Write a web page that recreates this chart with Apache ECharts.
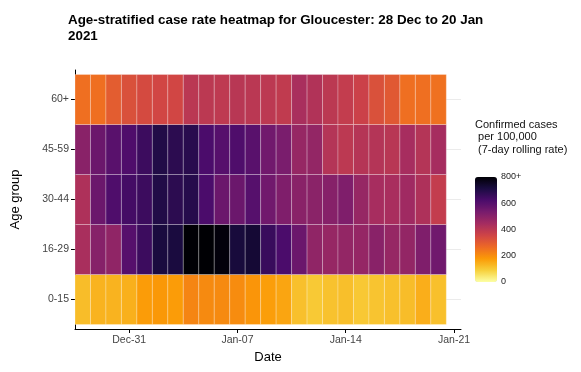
<!DOCTYPE html>
<html><head><meta charset="utf-8">
<script src="https://cdn.jsdelivr.net/npm/echarts@6/dist/echarts.min.js"></script>
<style>html,body{margin:0;padding:0;background:#fff}#c{width:581px;height:372px}</style>
</head><body><div id="c"></div>
<script>
const dates = ['2020-12-28','2020-12-29','2020-12-30','2020-12-31','2021-01-01','2021-01-02','2021-01-03','2021-01-04',
  '2021-01-05','2021-01-06','2021-01-07','2021-01-08','2021-01-09','2021-01-10','2021-01-11','2021-01-12',
  '2021-01-13','2021-01-14','2021-01-15','2021-01-16','2021-01-17','2021-01-18','2021-01-19','2021-01-20'];
const ageGroups = ['0-15','16-29','30-44','45-59','60+'];
const rate_0_15   = [120,137,137,142,175,182,175,216,207,207,203,187,171,160,116,100,112,117,102,108,115,120,145,116];
const rate_16_29  = [435,505,485,600,650,715,715,860,850,790,720,730,655,622,560,485,475,480,477,500,475,480,520,550];
const rate_30_44  = [425,560,615,635,650,700,680,690,622,560,560,600,548,520,500,497,505,520,475,440,437,455,425,382];
const rate_45_59  = [500,560,595,615,650,700,680,685,622,600,615,595,548,530,475,480,412,395,410,412,405,440,412,442];
const rate_60plus = [255,255,295,325,340,350,350,400,398,392,405,400,395,388,435,418,398,382,365,325,305,255,255,252];
const tickDates  = ['2020-12-31','2021-01-07','2021-01-14','2021-01-21'];
const tickLabels = ['Dec-31','Jan-07','Jan-14','Jan-21'];
const legendBreaks = [0,200,400,600,800];
const legendLabels = ['0','200','400','600','800+'];
const rateCap = 800;

const FONT = '"Liberation Sans", Arial, sans-serif';
const DAY = 86400000;
const t0 = Date.parse(dates[0]);
const dayOf = d => Math.round((Date.parse(d) - t0) / DAY);
const rows = [rate_0_15, rate_16_29, rate_30_44, rate_45_59, rate_60plus];
const data = [];
rows.forEach((vals, r) => vals.forEach((v, i) => data.push([dayOf(dates[i]), r + 1, v, Math.min(v, rateCap)])));
const tickVals = tickDates.map(dayOf);
const yVals = ageGroups.map((g, i) => i + 1);

const inferno = ['#FCFFA4','#F7D03C','#FB9A06','#ED6925','#CF4446','#A52C60','#781C6D','#4B0C6B','#1B0C42','#000004'];

const barTop = 177, barH = 105, barLeft = 475, barW = 22;
const graphics = [{
  type: 'text', left: 475, top: 119,
  style: { text: 'Confirmed cases\n per 100,000\n (7-day rolling rate)', font: '11px ' + FONT, fill: '#111', lineHeight: 12.3 }
}];
legendBreaks.forEach((b, i) => {
  const y = barTop + barH - b / rateCap * barH;
  graphics.push({ type: 'text', x: 501, y: y, style: { text: legendLabels[i], font: '9px ' + FONT, fill: '#222', verticalAlign: 'middle' } });
  if (i > 0 && i < legendBreaks.length - 1) {
    graphics.push({ type: 'line', shape: { x1: barLeft, y1: y, x2: barLeft + 4, y2: y }, style: { stroke: 'rgba(255,255,255,0.6)', lineWidth: 1 } });
    graphics.push({ type: 'line', shape: { x1: barLeft + barW - 4, y1: y, x2: barLeft + barW, y2: y }, style: { stroke: 'rgba(255,255,255,0.6)', lineWidth: 1 } });
  }
});

const chart = echarts.init(document.getElementById('c'), null, { renderer: 'canvas' });
chart.setOption({
  animation: false,
  backgroundColor: '#fff',
  textStyle: { fontFamily: FONT },
  title: {
    text: 'Age-stratified case rate heatmap for Gloucester: 28 Dec to 20 Jan\n2021',
    left: 68, top: 13, padding: 0,
    textStyle: { fontFamily: FONT, fontSize: 13.4, fontWeight: 'bold', color: '#000', lineHeight: 15.5 }
  },
  grid: { left: 75, top: 70, width: 386, height: 259, containLabel: false },
  xAxis: {
    type: 'value', min: -0.5, max: 24.45,
    axisLine: { show: true, onZero: false, lineStyle: { color: '#000', width: 1 } },
    axisTick: { show: true, length: 4, customValues: tickVals, lineStyle: { color: '#000' } },
    axisLabel: { customValues: tickVals, formatter: v => tickLabels[tickVals.indexOf(v)], margin: 6, fontSize: 10.5, color: '#444', fontFamily: FONT },
    splitLine: { show: false },
    name: 'Date', nameLocation: 'middle', nameGap: 22,
    nameTextStyle: { fontSize: 13, color: '#000', fontFamily: FONT }
  },
  yAxis: {
    type: 'value', min: 0.41, max: 5.59,
    axisLine: { show: true, onZero: false, lineStyle: { color: '#000', width: 1 } },
    axisTick: { show: true, length: 4, customValues: yVals, lineStyle: { color: '#000' } },
    axisLabel: { customValues: yVals, formatter: v => ageGroups[v - 1], margin: 6, fontSize: 10.5, color: '#444', fontFamily: FONT },
    splitLine: { show: true, lineStyle: { color: '#ebebeb', width: 1 } },
    name: 'Age group', nameLocation: 'middle', nameGap: 53, nameRotate: 90,
    nameTextStyle: { fontSize: 13, color: '#000', fontFamily: FONT }
  },
  visualMap: {
    type: 'continuous', min: 0, max: rateCap, dimension: 3, seriesIndex: 0,
    orient: 'vertical', left: barLeft, top: barTop, itemWidth: barW, itemHeight: barH,
    calculable: false, hoverLink: false, padding: 0, text: null,
    inRange: { color: inferno }
  },
  graphic: graphics,
  series: [{
    type: 'custom',
    encode: { x: 0, y: 1 },
    data: data,
    renderItem: function (params, api) {
      const x = api.value(0), y = api.value(1);
      const p0 = api.coord([x - 0.5, y + 0.5]);
      const p1 = api.coord([x + 0.5, y - 0.5]);
      return {
        type: 'rect',
        shape: { x: p0[0], y: p0[1], width: p1[0] - p0[0], height: p1[1] - p0[1] },
        style: { fill: api.visual('color'), stroke: 'rgba(255,255,255,0.25)', lineWidth: 1 }
      };
    }
  }]
});
</script></body></html>
